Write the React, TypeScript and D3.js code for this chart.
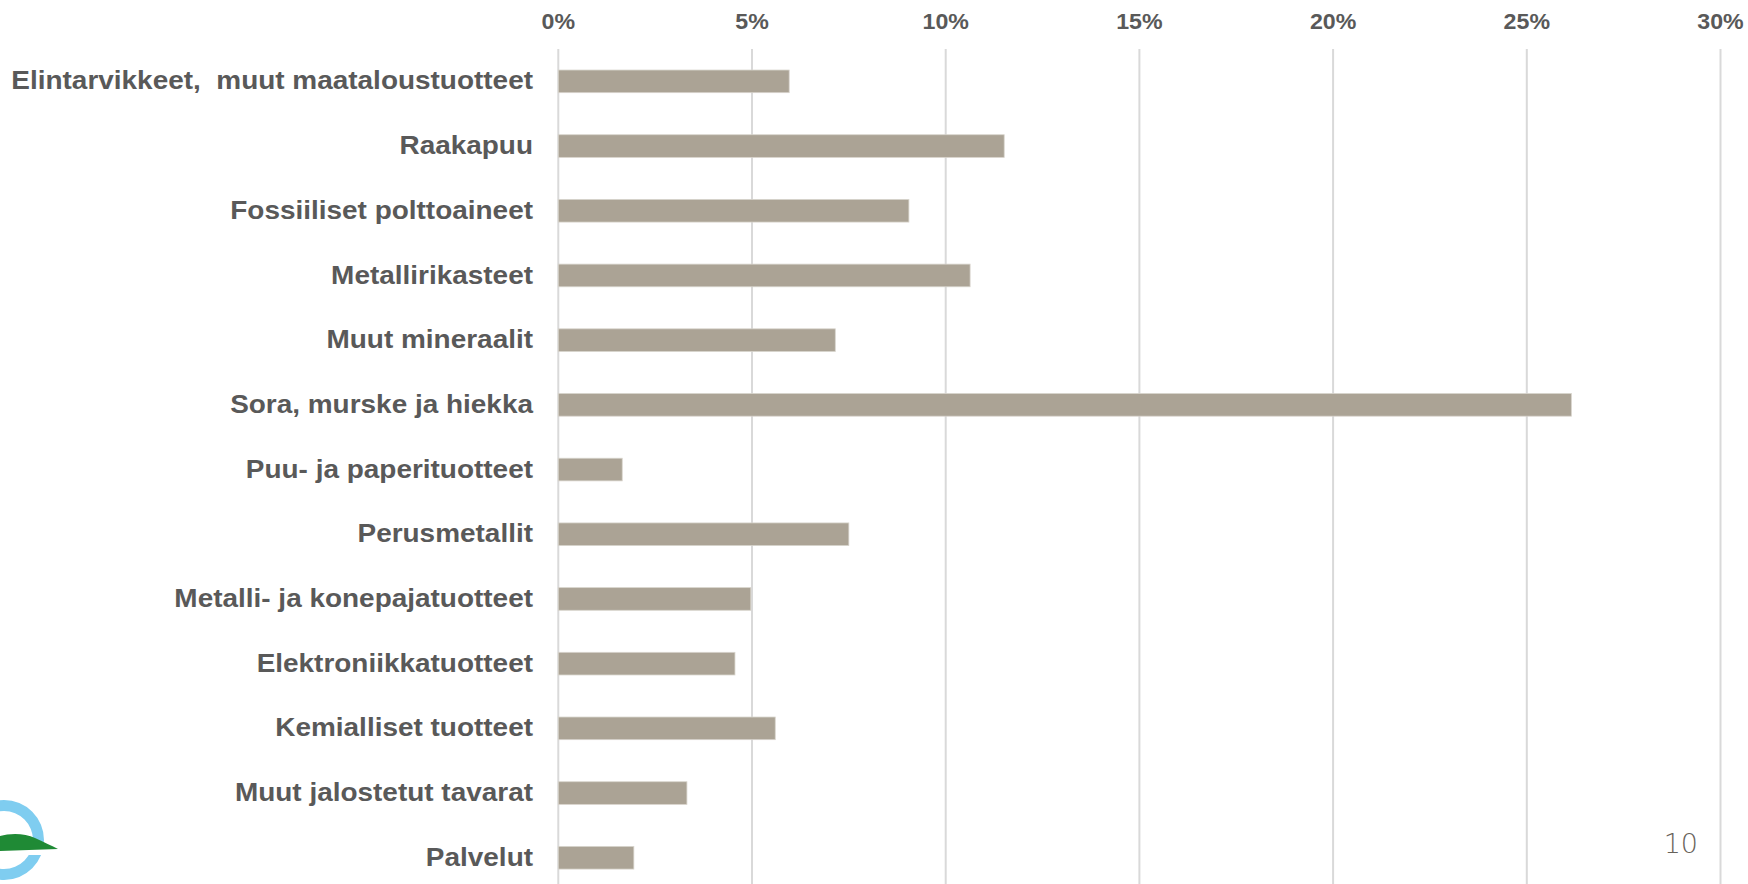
import React from "react";
import * as d3 from "d3";

// categories, top to bottom
const categories = [
  "Elintarvikkeet,  muut maataloustuotteet",
  "Raakapuu",
  "Fossiiliset polttoaineet",
  "Metallirikasteet",
  "Muut mineraalit",
  "Sora, murske ja hiekka",
  "Puu- ja paperituotteet",
  "Perusmetallit",
  "Metalli- ja konepajatuotteet",
  "Elektroniikkatuotteet",
  "Kemialliset tuotteet",
  "Muut jalostetut tavarat",
  "Palvelut",
];

// share of total (fraction)
const shares = [
  0.0596, 0.1151, 0.0905, 0.1063, 0.0715, 0.2615, 0.0165, 0.075, 0.0497,
  0.0456, 0.056, 0.0332, 0.0195,
];

const xTicks = [0, 0.05, 0.1, 0.15, 0.2, 0.25, 0.3];

const pageNumber = "10";

const W = 1748;
const H = 884;

export default function App() {
  const x = d3.scaleLinear().domain([0, 0.3]).range([558.3, 1720.5]);
  const y = d3
    .scaleBand<string>()
    .domain(categories)
    .range([49, 49 + categories.length * 64.7])
    .paddingInner(0.65)
    .paddingOuter(0.325);
  const fmt = d3.format(".0%");

  const textColor = "#595959";
  const font = "'Liberation Sans', Arial, sans-serif";

  // logo ring
  const ringArc = d3.arc()({
    innerRadius: 29,
    outerRadius: 40,
    startAngle: 0,
    endAngle: Math.PI * 2,
  } as any);

  return (
    <div style={{ position: "absolute", left: 0, top: 0, width: W, height: H, background: "#fff" }}>
      <svg width={W} height={H} style={{ display: "block" }}>
        {/* gridlines */}
        {xTicks.map((t) => (
          <line
            key={"g" + t}
            x1={x(t)}
            x2={x(t)}
            y1={49}
            y2={H}
            stroke="#d9d9d9"
            strokeWidth={2}
          />
        ))}
        {/* tick labels on top */}
        {xTicks.map((t) => (
          <text
            key={"t" + t}
            transform={`translate(${x(t)},29) scale(1.03,1)`}
            textAnchor="middle"
            fontFamily={font}
            fontWeight="bold"
            fontSize={22.5}
            fill={textColor}
          >
            {fmt(t)}
          </text>
        ))}
        {/* bars */}
        {categories.map((c, i) => (
          <rect
            key={"b" + c}
            x={x(0)}
            y={y(c)}
            width={x(shares[i]) - x(0)}
            height={y.bandwidth()}
            fill="#aba395"
            stroke="#d8d4cc"
            strokeWidth={0.8}
          />
        ))}
        {/* category labels */}
        {categories.map((c) => (
          <text
            key={"l" + c}
            transform={`translate(533,${(y(c) ?? 0) + y.bandwidth() / 2 - 1}) scale(1.075,1)`}
            dy="0.35em"
            textAnchor="end"
            fontFamily={font}
            fontWeight="bold"
            fontSize={26}
            fill={textColor}
            style={{ whiteSpace: "pre" }}
          >
            {c}
          </text>
        ))}
        {/* page number */}
        <text
          x={1698}
          y={853}
          textAnchor="end"
          fontFamily="'DejaVu Sans', sans-serif"
          fontWeight={300}
          fontSize={27}
          fill="#67625a"
        >
          {pageNumber}
        </text>
        {/* logo */}
        <g>
          <path d={ringArc as string} transform="translate(4,840)" fill="#7fcdf0" />
          <rect x={20} y={849} width={30} height={6} fill="#fff" />
          <path
            d="M0,836 C10,833 25,833 35,838 C44,842 52,846 58,849 L0,851 Z"
            fill="#1f8a35"
          />
        </g>
      </svg>
    </div>
  );
}
